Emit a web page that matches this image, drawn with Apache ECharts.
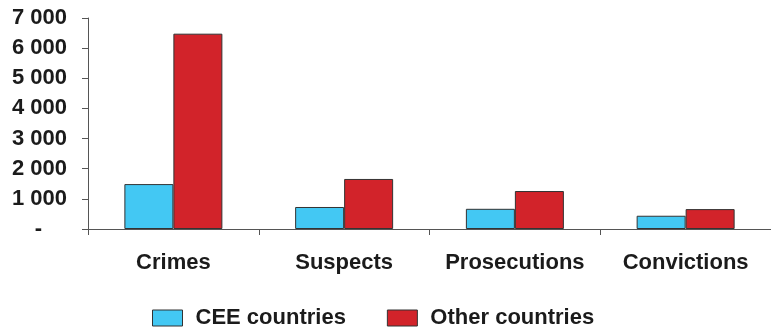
<!DOCTYPE html>
<html>
<head>
<meta charset="utf-8">
<script src="https://cdn.jsdelivr.net/npm/echarts@6/dist/echarts.min.js"></script>
<style>
  html, body { margin: 0; padding: 0; background: #fff; }
  #chart { width: 771px; height: 332px; }
</style>
</head>
<body>
<div id="chart"></div>
<script>
// Categories and values per country group
const categories = ['Crimes', 'Suspects', 'Prosecutions', 'Convictions'];
const ceeCountries = [1490, 730, 670, 440];
const otherCountries = [6480, 1660, 1260, 660];
const seriesNames = ['CEE countries', 'Other countries'];

const FONT = 'Liberation Sans';
const INK = '#1b1b1b';
const AXIS = '#555555';

function fmtThousands(v) {
  return String(v).replace(/\B(?=(\d{3})+(?!\d))/g, ' ');
}

const chart = echarts.init(document.getElementById('chart'), null, { renderer: 'canvas' });

chart.setOption({
  animation: false,
  backgroundColor: '#ffffff',
  grid: { left: 88, top: 18, width: 686, height: 211, containLabel: false },
  legend: {
    data: seriesNames,
    left: 152,
    top: 307,
    padding: 0,
    itemWidth: 30,
    itemHeight: 16,
    itemGap: 41,
    icon: 'rect',
    itemStyle: { borderColor: '#333', borderWidth: 1 },
    textStyle: { fontFamily: FONT, fontWeight: 'bold', fontSize: 22, color: INK, padding: [0, 0, 0, 8] }
  },
  xAxis: {
    type: 'category',
    data: categories,
    axisLine: { lineStyle: { color: AXIS, width: 1 } },
    axisTick: { show: true, interval: 0, length: 6, lineStyle: { color: AXIS } },
    axisLabel: { interval: 0, margin: 23, fontFamily: FONT, fontWeight: 'bold', fontSize: 22, color: INK }
  },
  yAxis: {
    type: 'value',
    min: 0,
    max: 7000,
    interval: 1000,
    axisLine: { show: true, lineStyle: { color: AXIS, width: 1 } },
    axisTick: { show: true, length: 6, lineStyle: { color: AXIS } },
    splitLine: { show: false },
    axisLabel: {
      margin: 21,
      fontFamily: FONT, fontWeight: 'bold', fontSize: 22, color: INK,
      formatter: v => v === 0 ? '{dash|-}' : fmtThousands(v),
      rich: { dash: { fontFamily: FONT, fontWeight: 'bold', fontSize: 22, color: INK, padding: [0, 25, 0, 0] } }
    }
  },
  series: [
    {
      name: seriesNames[0],
      type: 'bar',
      data: ceeCountries,
      barWidth: 49,
      barGap: '0%',
      itemStyle: { color: '#43c8f3', borderColor: '#333', borderWidth: 1 }
    },
    {
      name: seriesNames[1],
      type: 'bar',
      data: otherCountries,
      barWidth: 49,
      barGap: '0%',
      itemStyle: { color: '#d2232a', borderColor: '#333', borderWidth: 1 }
    }
  ]
});
</script>
</body>
</html>
